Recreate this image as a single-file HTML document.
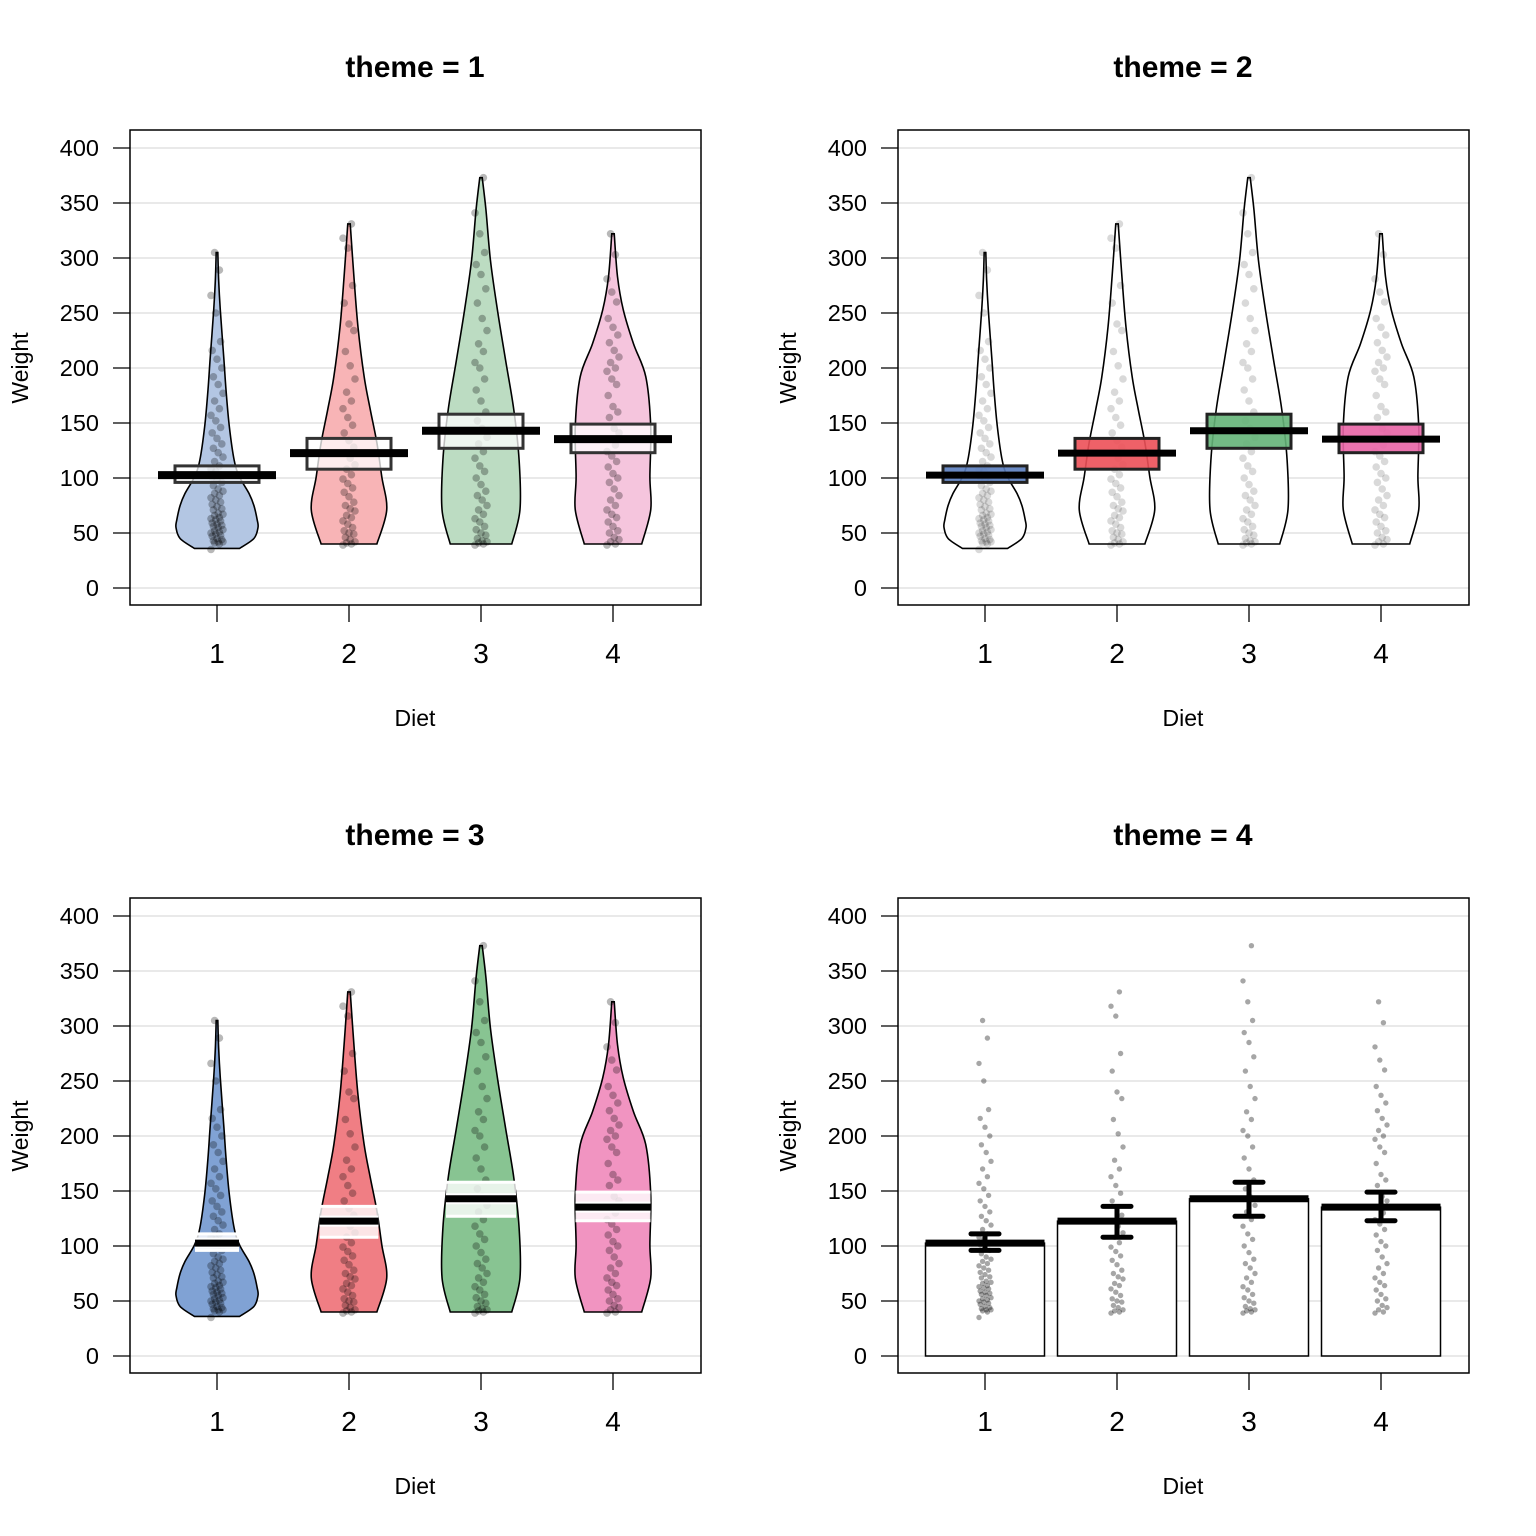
<!DOCTYPE html>
<html><head><meta charset="utf-8"><style>
html,body{margin:0;padding:0;background:#fff;}
svg{display:block;font-family:"Liberation Sans",Arial,sans-serif;}
</style></head><body>
<svg id="c" width="1536" height="1536" xmlns="http://www.w3.org/2000/svg"></svg>
<script>
const diets = [1,2,3,4];
const yTicks = [0,50,100,150,200,250,300,350,400];
const means = [102.6,122.6,142.9,135.3];
const ciLow = [96,108,127,123];
const ciHigh = [111,136,158,149];
const vLevels1 = [36,45,55,62,75,86,101,116,147,180,207,253,280,305];
const vWidths1 = [0.55,0.9,1,0.98,0.9,0.78,0.55,0.42,0.3,0.22,0.17,0.08,0.04,0.02];
const vLevels2 = [40,71,101,132,162,192,237,283,331];
const vWidths2 = [0.68,0.92,0.8,0.68,0.52,0.37,0.22,0.12,0.03];
const vLevels3 = [40,71,116,162,207,253,298,344,373];
const vWidths3 = [0.75,0.95,0.93,0.8,0.6,0.4,0.23,0.12,0.03];
const vLevels4 = [40,71,101,147,192,222,253,283,322];
const vWidths4 = [0.7,0.92,0.9,0.92,0.8,0.5,0.25,0.11,0.03];
const pts1 = [35,40,41,42,42,43,44,45,47,48,49,50,51,52,53,55,56,57,58,59,61,62,63,64,66,67,68,71,72,74,76,78,80,82,84,86,88,90,93,96,98,101,103,106,108,111,115,119,123,127,131,136,141,146,152,157,163,170,177,185,192,200,208,216,224,250,266,289,305];
const pts2 = [39,40,41,42,44,46,49,50,52,55,58,61,64,66,70,72,75,78,83,87,91,95,99,103,108,112,118,123,128,134,141,148,155,163,170,178,190,202,215,234,240,259,275,309,318,331];
const pts3 = [39,40,41,42,43,45,48,50,53,56,60,63,67,71,75,80,84,88,94,100,106,111,118,124,131,137,145,152,160,170,180,190,200,205,215,222,234,245,259,272,285,294,305,322,341,373];
const pts4 = [39,40,42,44,46,50,52,56,60,64,67,71,75,80,84,90,96,100,104,110,115,120,124,130,135,141,145,155,160,165,175,185,190,197,200,205,210,216,223,230,237,245,260,269,281,303,322];

const levels=[vLevels1,vLevels2,vLevels3,vLevels4], widths=[vWidths1,vWidths2,vWidths3,vWidths4], pts=[pts1,pts2,pts3,pts4];
const fill1=['rgb(179,198,227)','rgb(248,180,182)','rgb(188,220,194)','rgb(245,197,221)'];
const fill3=['rgb(128,162,212)','rgb(240,126,132)','rgb(136,196,146)','rgb(241,148,193)'];
const fill2=['rgb(90,125,190)','rgb(236,80,88)','rgb(100,180,120)','rgb(232,100,165)'];
const NS='http://www.w3.org/2000/svg';
const svg=document.getElementById('c');
function mk(tag,attrs,parent,name,inter){const e=document.createElementNS(NS,tag);for(const k in attrs)e.setAttribute(k,attrs[k]);


(parent||svg).appendChild(e);return e;}
const HALF=41;
function widthAt(i,v){const L=levels[i],W=widths[i];
  if(v<=L[0])return W[0];for(let j=1;j<L.length;j++){if(v<=L[j]){const t=(v-L[j-1])/(L[j]-L[j-1]);return W[j-1]+t*(W[j]-W[j-1]);}}return W[W.length-1];}
function smooth(P){
  let d='M'+P[0][0]+','+P[0][1];
  for(let i=0;i<P.length-1;i++){const p0=P[Math.max(0,i-1)],p1=P[i],p2=P[i+1],p3=P[Math.min(P.length-1,i+2)];
    const c1=[p1[0]+(p2[0]-p0[0])/6,p1[1]+(p2[1]-p0[1])/6],c2=[p2[0]-(p3[0]-p1[0])/6,p2[1]-(p3[1]-p1[1])/6];
    d+=` C${c1[0]},${c1[1]} ${c2[0]},${c2[1]} ${p2[0]},${p2[1]}`;}
  return d;}
function panel(theme,ox,oy){
  const g=mk('g',{transform:`translate(${ox},${oy})`},svg,'panel-theme-'+theme,false);
  const xs=k=>217+(k-1)*132, ys=v=>588-v*1.1;
  const t=mk('text',{x:415,y:77,'text-anchor':'middle','font-size':30,'font-weight':'bold'},g,'panel-title',false);t.textContent='theme = '+theme;
  yTicks.forEach(v=>{mk('line',{x1:130,x2:701,y1:ys(v),y2:ys(v),stroke:'#d3d3d3','stroke-width':1},g,'grid-line',false);
    mk('line',{x1:113,x2:130,y1:ys(v),y2:ys(v),stroke:'#000','stroke-width':1.3},g,'y-tick',false);
    const l=mk('text',{x:99,y:ys(v)+8,'text-anchor':'end','font-size':23.5},g,'y-tick-label',false);l.textContent=v;});
  diets.forEach(d=>{mk('line',{x1:xs(d),x2:xs(d),y1:605,y2:622,stroke:'#000','stroke-width':1.3},g,'x-tick',false);
    const l=mk('text',{x:xs(d),y:663,'text-anchor':'middle','font-size':28},g,'x-tick-label',false);l.textContent=d;});
  const xl=mk('text',{x:415,y:726,'text-anchor':'middle','font-size':23},g,'x-axis-title',false);xl.textContent='Diet';
  const yl=mk('text',{x:0,y:0,'text-anchor':'middle','font-size':23,transform:'translate(28,368) rotate(-90)'},g,'y-axis-title',false);yl.textContent='Weight';
  diets.forEach((d,i)=>{
    const cx=xs(d);
    if(theme===4){
      mk('rect',{x:cx-59.5,y:ys(means[i]),width:119,height:ys(0)-ys(means[i]),fill:'#fff',stroke:'#000','stroke-width':1.5},g,'bar-diet-'+d,false);
    } else {
      const L=levels[i],W=widths[i];
      const R=L.map((v,j)=>[cx+W[j]*HALF,ys(v)]);
      const Lf=L.map((v,j)=>[cx-W[j]*HALF,ys(v)]).reverse();
      let p=smooth(R)+' L'+(cx-W[W.length-1]*HALF)+','+ys(L[L.length-1])+' '+smooth(Lf).replace(/^M/,'L')+' Z';
      const f=theme===1?fill1[i]:theme===3?fill3[i]:'#fff';
      mk('path',{d:p,fill:f,stroke:'#000','stroke-width':1.6},g,'violin-diet-'+d,false);
    }
    const op=theme===2?0.15:theme===4?0.35:0.28, r=theme===4?2.7:3.8;
    pts[i].forEach((v,j)=>{const off=(((j*7)%11)-5)*1.2;
      mk('circle',{cx:cx+off,cy:ys(v),r:r,fill:'#000','fill-opacity':op},g,'point-diet-'+d,false);});
    const y1=ys(ciHigh[i]),y2=ys(ciLow[i]),ym=ys(means[i]);
    if(theme===1){
      mk('rect',{x:cx-42,y:y1,width:84,height:y2-y1,fill:'rgba(255,255,255,0.75)',stroke:'#333','stroke-width':3},g,'hdi-box-diet-'+d,false);
      mk('line',{x1:cx-59,x2:cx+59,y1:ym,y2:ym,stroke:'#000','stroke-width':8},g,'mean-bar-diet-'+d,false);
    } else if(theme===2){
      mk('rect',{x:cx-42,y:y1,width:84,height:y2-y1,fill:fill2[i],'fill-opacity':0.9,stroke:'#222','stroke-width':3},g,'hdi-box-diet-'+d,false);
      mk('line',{x1:cx-59,x2:cx+59,y1:ym,y2:ym,stroke:'#000','stroke-width':7},g,'mean-bar-diet-'+d,false);
    } else if(theme===3){
      const hw=widthAt(i,means[i])*HALF;
      mk('rect',{x:cx-hw,y:y1,width:hw*2,height:y2-y1,fill:'rgba(255,255,255,0.8)',stroke:'none'},g,'hdi-band-diet-'+d,false);
      mk('line',{x1:cx-hw,x2:cx+hw,y1:y1,y2:y1,stroke:'#fff','stroke-width':3},g,'hdi-top-line',false);
      mk('line',{x1:cx-hw,x2:cx+hw,y1:y2,y2:y2,stroke:'#fff','stroke-width':3},g,'hdi-bottom-line',false);
      mk('line',{x1:cx-hw,x2:cx+hw,y1:ym,y2:ym,stroke:'#fff','stroke-width':11},g,'mean-bar-outline',false);
      mk('line',{x1:cx-hw,x2:cx+hw,y1:ym,y2:ym,stroke:'#000','stroke-width':7},g,'mean-bar-diet-'+d,false);
    } else {
      mk('line',{x1:cx-59.5,x2:cx+59.5,y1:ym,y2:ym,stroke:'#000','stroke-width':7},g,'mean-bar-diet-'+d,false);
      mk('line',{x1:cx,x2:cx,y1:y1,y2:y2,stroke:'#000','stroke-width':5},g,'error-bar-diet-'+d,false);
      mk('line',{x1:cx-14,x2:cx+14,y1:y1,y2:y1,stroke:'#000','stroke-width':5,'stroke-linecap':'round'},g,'error-cap-top',false);
      mk('line',{x1:cx-14,x2:cx+14,y1:y2,y2:y2,stroke:'#000','stroke-width':5,'stroke-linecap':'round'},g,'error-cap-bottom',false);
    }
  });
  mk('rect',{x:130,y:130,width:571,height:475,fill:'none',stroke:'#000','stroke-width':1.5},g,'plot-frame',false);
}
panel(1,0,0);panel(2,768,0);panel(3,0,768);panel(4,768,768);
</script>
</body></html>
